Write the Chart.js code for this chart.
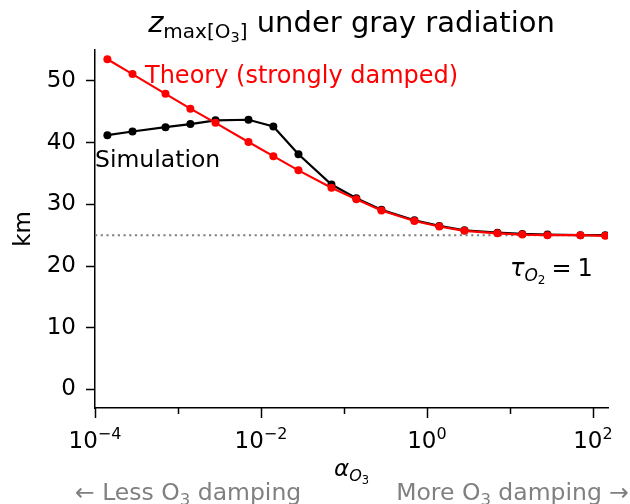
<!DOCTYPE html>
<html>
<head>
<meta charset="utf-8">
<title>z max O3 under gray radiation</title>
<script src="https://cdn.jsdelivr.net/npm/chart.js@4/dist/chart.umd.min.js"></script>
<style>
  html, body { margin: 0; padding: 0; background: #fff; }
  #wrap { width: 630px; height: 504px; }
</style>
</head>
<body>
<div id="wrap"><canvas id="grafico" width="630" height="504"></canvas></div>
<script>
// datos
const alphaO3 = [1.41e-4, 2.83e-4, 7.07e-4, 1.41e-3, 2.83e-3, 7.07e-3, 1.41e-2, 2.83e-2, 7.07e-2,
                 0.141, 0.283, 0.707, 1.41, 2.83, 7.07, 14.1, 28.3, 70.7, 141];
const theoryKm = [53.5, 51.1, 47.9, 45.5, 43.2, 40.1, 37.8, 35.5, 32.7,
                  30.8, 29.0, 27.3, 26.4, 25.7, 25.3, 25.1, 25.0, 25.0, 24.9];
const simulationKm = [41.2, 41.8, 42.5, 43.0, 43.6, 43.7, 42.6, 38.1, 33.2,
                      31.0, 29.1, 27.4, 26.5, 25.8, 25.4, 25.2, 25.1, 25.0, 25.0];
const tauLevelKm = 25;
const yTicks = [0, 10, 20, 30, 40, 50];
const xMajorExp = [-4, -2, 0, 2];
const xMinorExp = [-3, -1, 1];
const xMajorLabels = ['\u22124', '\u22122', '0', '2'];

const FONT = '"DejaVu Sans", "Liberation Sans", sans-serif';

function toPoints(xs, ys) {
    return xs.map((x, i) => ({ x: x, y: ys[i] }));
}

// texto con sub/superindices: [texto, tam, dy, cursiva]
function drawRich(ctx, parts, x, y, align, color) {
    let total = 0;
    parts.forEach(p => {
        ctx.font = (p[3] ? 'italic ' : '') + p[1] + 'px ' + FONT;
        p.w = ctx.measureText(p[0]).width;
        total += p.w;
    });
    let cx = x;
    if (align === 'center') cx = x - total / 2;
    if (align === 'right') cx = x - total;
    ctx.fillStyle = color;
    ctx.textAlign = 'left';
    ctx.textBaseline = 'alphabetic';
    parts.forEach(p => {
        ctx.font = (p[3] ? 'italic ' : '') + p[1] + 'px ' + FONT;
        ctx.fillText(p[0], cx, y + p[2]);
        cx += p.w;
    });
}

const extras = {
    id: 'extras',
    beforeDatasetsDraw(chart) {
        const ctx = chart.ctx, a = chart.chartArea;
        const yy = chart.scales.y.getPixelForValue(tauLevelKm);
        ctx.save();
        ctx.strokeStyle = '#808080';
        ctx.lineWidth = 2;
        ctx.setLineDash([2.2, 3.5]);
        ctx.beginPath();
        ctx.moveTo(a.left, yy);
        ctx.lineTo(a.right, yy);
        ctx.stroke();
        ctx.restore();
    },
    afterDraw(chart) {
        const ctx = chart.ctx, a = chart.chartArea;
        const xs = chart.scales.x;
        ctx.save();
        // marcas del eje x
        ctx.strokeStyle = '#000';
        ctx.lineWidth = 1.5;
        xMajorExp.forEach(e => {
            const px = Math.round(xs.getPixelForValue(Math.pow(10, e))) + 0.5;
            ctx.beginPath(); ctx.moveTo(px, a.bottom); ctx.lineTo(px, a.bottom + 10); ctx.stroke();
        });
        xMinorExp.forEach(e => {
            const px = Math.round(xs.getPixelForValue(Math.pow(10, e))) + 0.5;
            ctx.beginPath(); ctx.moveTo(px, a.bottom); ctx.lineTo(px, a.bottom + 6); ctx.stroke();
        });
        xMajorExp.forEach((e, i) => {
            const px = xs.getPixelForValue(Math.pow(10, e));
            drawRich(ctx, [['10', 23, 0], [xMajorLabels[i], 16, -9]], px, a.bottom + 40, 'center', '#000');
        });

        // titulo
        drawRich(ctx, [['z', 29, 0, true], ['max[O', 20, 6], ['3', 14.5, 10], [']', 20, 6],
                       [' under gray radiation', 29, 0]], (a.left + a.right) / 2, 32, 'center', '#000');

        // etiqueta eje x
        drawRich(ctx, [['\u03b1', 23, 0, true], ['O', 16, 5, true], ['3', 11.5, 8]],
                 (a.left + a.right) / 2, 476, 'center', '#000');

        // etiqueta eje y
        ctx.save();
        ctx.translate(30, (a.top + a.bottom) / 2);
        ctx.rotate(-Math.PI / 2);
        drawRich(ctx, [['km', 23, 0]], 0, 0, 'center', '#000');
        ctx.restore();

        // anotaciones
        drawRich(ctx, [['Theory (strongly damped)', 24, 0]], 145, 83, 'left', '#ff0000');
        drawRich(ctx, [['Simulation', 23.5, 0]], 95, 167, 'left', '#000');
        drawRich(ctx, [['\u03c4', 24, 0, true], ['O', 17, 5, true], ['2', 12, 8], ['\u2005=\u20051', 24, 0]],
                 510, 276, 'left', '#000');

        drawRich(ctx, [['\u2190 Less O', 23.5, 0], ['3', 16.5, 5], [' damping', 23.5, 0]],
                 75, 500, 'left', '#808080');
        drawRich(ctx, [['More O', 23.5, 0], ['3', 16.5, 5], [' damping \u2192', 23.5, 0]],
                 629, 500, 'right', '#808080');
        ctx.restore();
    }
};

new Chart(document.getElementById('grafico').getContext('2d'), {
    type: 'line',
    data: {
        datasets: [
            {
                label: 'Theory (strongly damped)',
                data: toPoints(alphaO3, theoryKm),
                borderColor: '#ff0000',
                backgroundColor: '#ff0000',
                borderWidth: 2.2,
                pointRadius: 4,
                pointBorderWidth: 0,
                tension: 0,
                order: 0
            },
            {
                label: 'Simulation',
                data: toPoints(alphaO3, simulationKm),
                borderColor: '#000000',
                backgroundColor: '#000000',
                borderWidth: 2.2,
                pointRadius: 4,
                pointBorderWidth: 0,
                tension: 0,
                order: 1
            }
        ]
    },
    options: {
        responsive: false,
        animation: false,
        devicePixelRatio: 1,
        layout: { padding: { top: 50, right: 22, left: 0, bottom: 0 } },
        plugins: { legend: { display: false }, tooltip: { enabled: false } },
        scales: {
            x: {
                type: 'logarithmic',
                min: 1e-4,
                max: 152,
                afterFit: s => { s.height = 96; },
                afterBuildTicks: s => { s.ticks = xMajorExp.map(e => ({ value: Math.pow(10, e) })); },
                grid: { display: false },
                border: { display: true, color: '#000', width: 1.5 },
                ticks: { display: false }
            },
            y: {
                min: -3,
                max: 55,
                afterFit: s => { s.width = 95; },
                afterBuildTicks: s => { s.ticks = yTicks.map(v => ({ value: v })); },
                grid: { drawOnChartArea: false, drawTicks: true, tickLength: 9, tickWidth: 1.5, tickColor: '#000' },
                border: { display: true, color: '#000', width: 1.5 },
                ticks: { color: '#000', padding: 10, font: { family: FONT, size: 23 } }
            }
        }
    },
    plugins: [extras]
});
</script>
</body>
</html>
